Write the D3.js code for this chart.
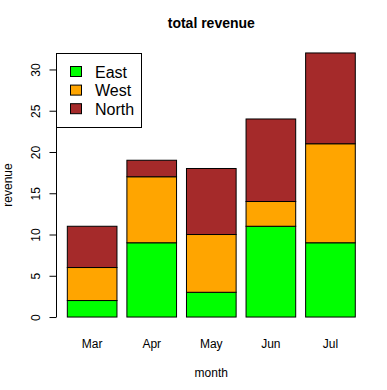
<!DOCTYPE html>
<html>
<head>
<meta charset="utf-8">
<script src="https://cdn.jsdelivr.net/npm/d3@7"></script>
<style>
  body { margin: 0; background: #fff; }
  text { font-family: "Liberation Sans", Arial, Helvetica, sans-serif; }
</style>
</head>
<body>
<div id="chart"></div>
<script>
// Data
var months = ["Mar", "Apr", "May", "Jun", "Jul"];
var series = ["East", "West", "North"];
var east = [2, 9, 3, 11, 9];
var west = [4, 8, 7, 3, 12];
var north = [5, 2, 8, 10, 11];
var yTicks = [0, 5, 10, 15, 20, 25, 30];
var colors = ["#00ff00", "#ffa500", "#a52a2a"];

var svgWidth = 387;
var svgHeight = 390;

var svg = d3.select("#chart")
    .append("svg")
    .attr("width", svgWidth)
    .attr("height", svgHeight);

// Build rows for stacking
var rows = months.map((m, i) => ({ month: m, East: east[i], West: west[i], North: north[i] }));
var stacked = d3.stack().keys(series)(rows);
var maxTotal = d3.max(rows, d => d.East + d.West + d.North);

// R-style bar positions: width 1, space 0.2, axis extended by 4%
var barLeft = months.map((m, i) => 0.2 + i * 1.2);
var xMin = 0.2, xMax = 0.2 + months.length * 1.2 - 0.2;
var xPad = (xMax - xMin) * 0.04;
var xScale = d3.scaleLinear()
    .domain([xMin - xPad, xMax + xPad])
    .range([55.8, 366.8]);

var yPad = maxTotal * 0.04;
var yScale = d3.scaleLinear()
    .domain([-yPad, maxTotal + yPad])
    .range([327.6, 42.4]);

// Bars
svg.append("g").selectAll("g")
    .data(stacked)
    .enter()
    .append("g")
    .attr("fill", (d, i) => colors[i])
    .selectAll("rect")
    .data(d => d)
    .enter()
    .append("rect")
    .attr("x", (d, i) => xScale(barLeft[i]))
    .attr("width", xScale(1) - xScale(0))
    .attr("y", d => yScale(d[1]))
    .attr("height", d => yScale(d[0]) - yScale(d[1]))
    .attr("stroke", "#000")
    .attr("stroke-width", 1);

// Y axis (R style: line spans first to last tick)
var leftAxis = d3.axisLeft(yScale)
    .tickValues(yTicks)
    .tickSize(7)
    .tickSizeOuter(0);

var yAxisG = svg.append("g")
    .attr("transform", "translate(56.5,0)")
    .call(leftAxis);
yAxisG.select(".domain")
    .attr("d", `M0,${yScale(yTicks[0])}V${yScale(yTicks[yTicks.length - 1])}`);
yAxisG.selectAll(".tick line").attr("stroke", "#000");
yAxisG.selectAll(".tick text")
    .attr("transform", "rotate(-90)")
    .attr("x", 0)
    .attr("y", -17)
    .attr("dy", "0")
    .attr("text-anchor", "middle")
    .attr("font-size", "12px")
    .attr("fill", "#000");
yAxisG.attr("font-family", null);

// Month labels under bars
svg.append("g").selectAll("text")
    .data(months)
    .enter()
    .append("text")
    .attr("x", (d, i) => xScale(barLeft[i] + 0.5))
    .attr("y", 348)
    .attr("text-anchor", "middle")
    .attr("font-size", "12px")
    .text(d => d);

// Title and axis labels
svg.append("text")
    .attr("x", 211.3)
    .attr("y", 28)
    .attr("text-anchor", "middle")
    .attr("font-size", "14px")
    .attr("font-weight", "bold")
    .text("total revenue");

svg.append("text")
    .attr("x", 211.3)
    .attr("y", 377)
    .attr("text-anchor", "middle")
    .attr("font-size", "12px")
    .text("month");

svg.append("text")
    .attr("transform", "translate(12,185) rotate(-90)")
    .attr("text-anchor", "middle")
    .attr("font-size", "12px")
    .text("revenue");

// Legend
var legend = svg.append("g");
legend.append("rect")
    .attr("x", 56.5)
    .attr("y", 53.5)
    .attr("width", 85)
    .attr("height", 74)
    .attr("fill", "#fff")
    .attr("stroke", "#000");

var items = legend.selectAll("g.item")
    .data(series)
    .enter()
    .append("g")
    .attr("class", "item")
    .attr("transform", (d, i) => `translate(0, ${i * 18.6})`);

items.append("rect")
    .attr("x", 70.5)
    .attr("y", 66.5)
    .attr("width", 11)
    .attr("height", 10)
    .attr("fill", (d, i) => colors[i])
    .attr("stroke", "#000");

items.append("text")
    .attr("x", 95)
    .attr("y", 77.5)
    .attr("font-size", "16px")
    .text(d => d);
</script>
</body>
</html>
